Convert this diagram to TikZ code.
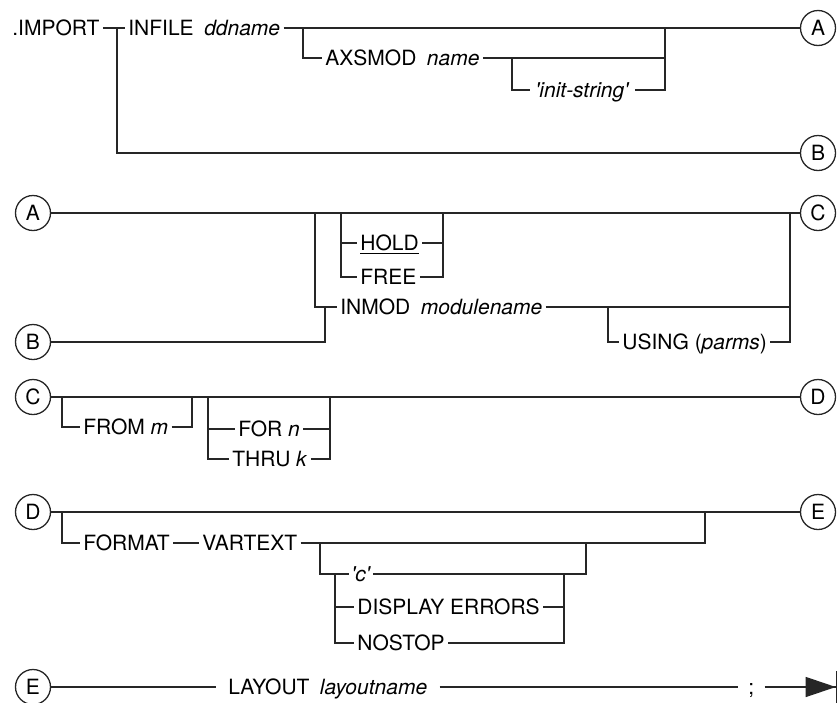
\documentclass[tikz,border=0pt]{standalone}
\usepackage{fontspec}
\setmainfont{TeX Gyre Heros}
\usetikzlibrary{arrows.meta}
\tikzset{
  rr/.style={line width=0.65pt, draw=black!85},
  kw/.style={anchor=west, inner xsep=1.5pt, inner ysep=0pt, text height=7.5pt,
    text depth=0pt, font=\fontsize{10.5}{12}\selectfont},
  conn/.style={draw=black!85, line width=0.65pt, circle, minimum size=17.5pt, inner sep=0pt,
    font=\fontsize{10.5}{12}\selectfont},
  stoparrow/.style={-{Triangle[length=15pt,width=10pt,sep=0pt]Bar[width=16pt]}},
}

\begin{document}
\begin{tikzpicture}[x=0.5pt, y=-0.5pt]
  \useasboundingbox (0,0) rectangle (840,702);
  % row 1
  \node[kw] (import) at (9,28) {.IMPORT};
  \node[kw] (infile) at (125,28) {INFILE\enspace\textit{ddname}};
  \node[kw] (axsmod) at (322,58) {AXSMOD\enspace\textit{name}};
  \node[kw, inner xsep=2.5pt] (initstr) at (530,90) {\textit{\textquotesingle init-string\textquotesingle}};
  \node[conn] (A) at (818,28) {A};
  \node[conn] (B) at (818,153) {B};
  \coordinate (forkIn) at (117,28);
  \coordinate (forkAx) at (303,28);
  \coordinate (joinAx) at (665,28);
  \coordinate (forkInit) at (512,58);
  \coordinate (joinInit) at (665,58);
  \draw[rr] (import.east) -- (infile.west);
  \draw[rr] (infile.east) -- (A.west);
  \draw[rr] (forkIn) |- (B.west);
  \draw[rr] (forkAx) |- (axsmod.west);
  \draw[rr] (axsmod.east) -| (joinAx);
  \draw[rr] (forkInit) |- (initstr.west);
  \draw[rr] (initstr.east) -| (joinInit);
  % row 2
  \node[conn] (A2) at (33,213) {A};
  \node[conn] (B2) at (33,342) {B};
  \node[conn] (C) at (818,213) {C};
  \node[kw] (hold) at (357,243) {\underline{HOLD}};
  \node[kw] (free) at (357,277) {FREE};
  \node[kw] (inmod) at (337,307) {INMOD\enspace\textit{modulename}};
  \node[kw] (using) at (619,342) {USING (\textit{parms})};
  \coordinate (forkHold) at (341,213);
  \coordinate (joinHold) at (443,213);
  \coordinate (forkInmod) at (315,213);
  \coordinate (joinB2) at (325,307);
  \coordinate (joinInmod) at (790,213);
  \coordinate (forkUsing) at (608,307);
  \coordinate (joinUsing) at (790,307);
  \draw[rr] (A2.east) -- (C.west);
  \draw[rr] (forkHold) |- (free.west);
  \draw[rr] (forkHold |- hold) -- (hold.west);
  \draw[rr] (hold.east) -- (joinHold |- hold);
  \draw[rr] (free.east) -| (joinHold);
  \draw[rr] (forkInmod) |- (inmod.west);
  \draw[rr] (B2.east) -| (joinB2);
  \draw[rr] (inmod.east) -| (joinInmod);
  \draw[rr] (forkUsing) |- (using.west);
  \draw[rr] (using.east) -| (joinUsing);
  % row 3
  \node[conn] (C2) at (33,397) {C};
  \node[conn] (D) at (818,397) {D};
  \node[kw] (fromkw) at (80,427) {FROM \textit{m}};
  \node[kw] (forkw) at (235,429) {FOR \textit{n}};
  \node[kw] (thrukw) at (229,459) {THRU \textit{k}};
  \coordinate (forkFrom) at (62,397);
  \coordinate (joinFrom) at (192,397);
  \coordinate (forkFor) at (208,397);
  \coordinate (joinFor) at (330,397);
  \draw[rr] (C2.east) -- (D.west);
  \draw[rr] (forkFrom) |- (fromkw.west);
  \draw[rr] (fromkw.east) -| (joinFrom);
  \draw[rr] (forkFor) |- (thrukw.west);
  \draw[rr] (forkFor |- forkw) -- (forkw.west);
  \draw[rr] (forkw.east) -- (joinFor |- forkw);
  \draw[rr] (thrukw.east) -| (joinFor);
  % row 4
  \node[conn] (D2) at (33,512) {D};
  \node[conn] (E) at (818,512) {E};
  \node[kw] (format) at (80,543) {FORMAT};
  \node[kw] (vartext) at (199,543) {VARTEXT};
  \node[kw, inner xsep=1pt] (cq) at (349,574) {\textit{\textquotesingle c\textquotesingle}};
  \node[kw] (display) at (354,607) {DISPLAY ERRORS};
  \node[kw] (nostop) at (354,643) {NOSTOP};
  \coordinate (forkFmt) at (62,512);
  \coordinate (joinFmt) at (705,512);
  \coordinate (forkC) at (320,543);
  \coordinate (joinC) at (586,543);
  \coordinate (forkDisp) at (335,574);
  \coordinate (joinDisp) at (564,574);
  \draw[rr] (D2.east) -- (E.west);
  \draw[rr] (forkFmt) |- (format.west);
  \draw[rr] (format.east) -- (vartext.west);
  \draw[rr] (vartext.east) -| (joinFmt);
  \draw[rr] (forkC) |- (cq.west);
  \draw[rr] (cq.east) -| (joinC);
  \draw[rr] (forkDisp) |- (nostop.west);
  \draw[rr] (forkDisp |- display) -- (display.west);
  \draw[rr] (display.east) -- (joinDisp |- display);
  \draw[rr] (nostop.east) -| (joinDisp);
  % row 5
  \node[conn] (E2) at (33,687) {E};
  \node[kw, inner xsep=6pt] (layout) at (216,687) {LAYOUT\enspace\textit{layoutname}};
  \node[kw, inner xsep=5pt] (semi) at (738,687) {;};
  \coordinate (stop) at (837,687);
  \draw[rr] (E2.east) -- (layout.west);
  \draw[rr] (layout.east) -- (semi.west);
  \draw[rr, stoparrow] (semi.east) -- (stop);
\end{tikzpicture}
\end{document}
